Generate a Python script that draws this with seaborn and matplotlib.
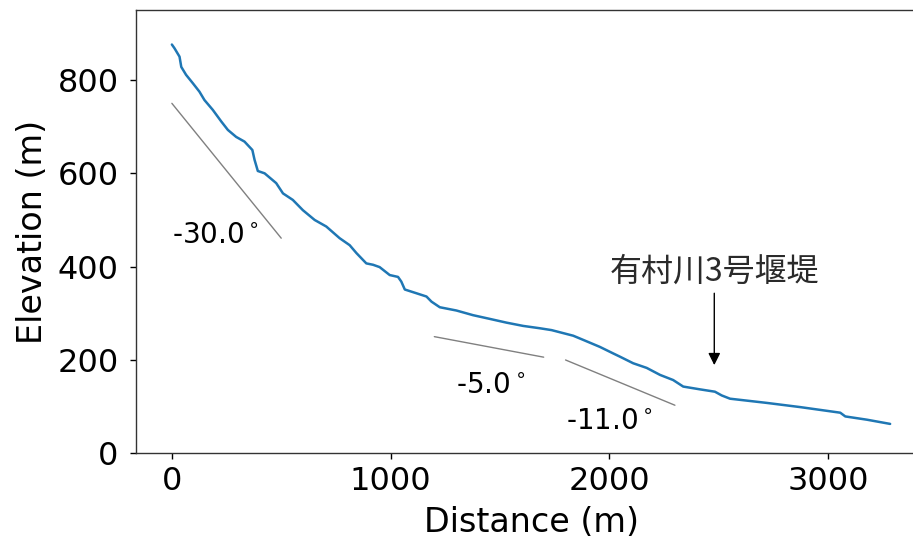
import matplotlib
matplotlib.use("Agg")
import matplotlib.pyplot as plt
import seaborn as sns
import pandas as pd

# ---- data ----
distance = [0, 12, 35, 43, 65, 96, 126, 149, 187, 226, 256, 294, 332, 368, 378, 393,
            424, 477, 508, 553, 599, 653, 706, 767, 813, 844, 889, 920, 950, 996,
            1034, 1049, 1065, 1118, 1164, 1187, 1225, 1301, 1377, 1454, 1530, 1606,
            1682, 1736, 1835, 1881, 1957, 2018, 2049, 2109, 2171, 2232, 2292, 2338,
            2415, 2483, 2514, 2552, 2720, 2873, 3056, 3079, 3178, 3284]
elevation = [876, 868, 850, 828, 811, 793, 775, 757, 736, 711, 693, 678, 668, 650, 629, 605,
             600, 579, 557, 543, 521, 500, 486, 461, 446, 429, 407, 404, 399, 382,
             378, 368, 351, 343, 336, 325, 313, 306, 296, 288, 280, 273,
             268, 264, 252, 243, 228, 214, 207, 193, 183, 168, 157, 143,
             137, 132, 124, 117, 108, 99, 87, 79, 72, 63]

slope_labels = ["-30.0", "-5.0", "-11.0"]
slope_x0 = [0, 1200, 1800]
slope_x1 = [500, 1700, 2300]
slope_y0 = [750, 250, 200]
slope_y1 = [461, 206, 103]
label_x = [0, 1300, 1800]
label_y = [450, 130, 52]

dam_name = "有村川3号堰堤"
dam_x = 2480
dam_tip_y = 189
dam_tail_y = 343
dam_text_y = 354

xlim = (-164, 3448)
ylim = (0, 950)
xticks = [0, 1000, 2000, 3000]
yticks = [0, 200, 400, 600, 800]

# ---- plotting ----
sns.set_style("ticks")
plt.rcParams["font.family"] = ["DejaVu Sans"]

fig = plt.figure(figsize=(9.13, 5.41), dpi=100)
ax = fig.add_axes([136 / 913, 87.7 / 541, 790 / 913, 443.3 / 541])

df = pd.DataFrame({"Distance (m)": distance, "Elevation (m)": elevation})
sns.lineplot(data=df, x="Distance (m)", y="Elevation (m)", ax=ax,
             color="#1f77b4", linewidth=1.8, sort=False)

for lab, x0, x1, y0, y1, tx, ty in zip(slope_labels, slope_x0, slope_x1,
                                        slope_y0, slope_y1, label_x, label_y):
    ax.plot([x0, x1], [y0, y1], color="gray", linewidth=1.0)
    ax.text(tx, ty, lab + r"$^\circ$", fontsize=20, color="black")

ax.annotate("", xy=(dam_x, dam_tip_y), xytext=(dam_x, dam_tail_y),
            arrowprops=dict(arrowstyle="-|>", color="black", lw=1.0,
                            mutation_scale=18, shrinkA=0, shrinkB=0))
ax.text(dam_x, dam_text_y, dam_name, ha="center", va="bottom", fontsize=23,
        family=["Noto Sans CJK JP", "DejaVu Sans"], color="#2a2a2a")

ax.set_xlim(*xlim)
ax.set_ylim(*ylim)
ax.set_xticks(xticks)
ax.set_yticks(yticks)
ax.tick_params(axis="both", labelsize=23, length=4.5, width=1.0, colors="black")
ax.tick_params(axis="y", pad=8)
ax.tick_params(axis="x", pad=5)
ax.set_xlabel("Distance (m)", fontsize=24, labelpad=6, color="black")
ax.set_ylabel("Elevation (m)", fontsize=24, labelpad=6, color="black")
for s in ax.spines.values():
    s.set_color("#333333")
    s.set_linewidth(1.0)
ax.spines["right"].set_visible(False)

fig.savefig("out.png", dpi=100)
